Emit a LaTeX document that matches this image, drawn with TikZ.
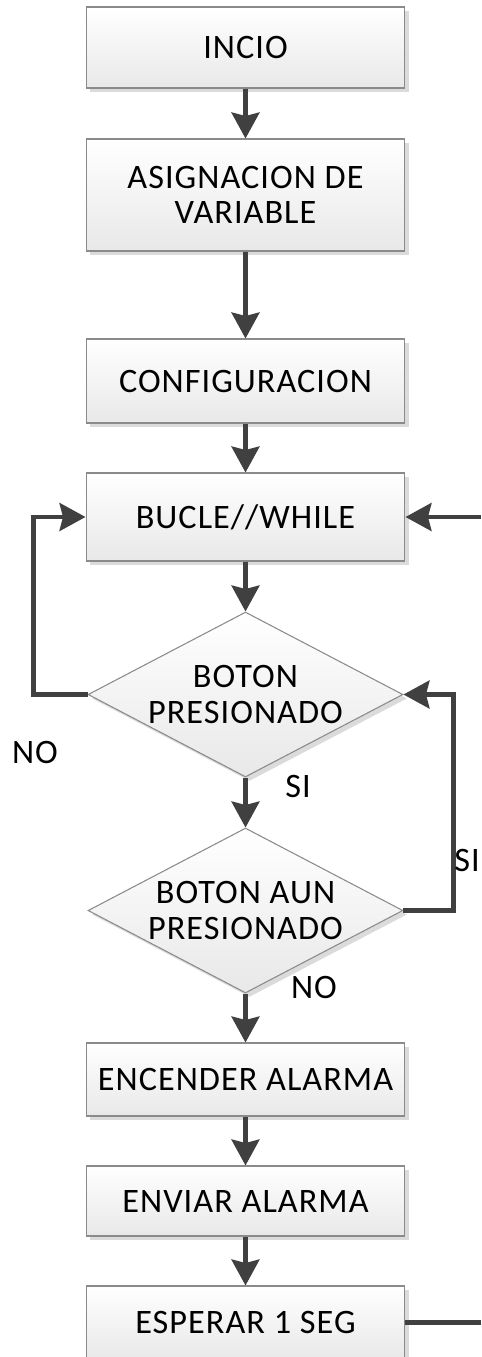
\documentclass[tikz,border=0pt]{standalone}
\usepackage{fontspec}
\setmainfont{Carlito}
\newfontfamily\letracaja[LetterSpace=3]{Carlito}
\usetikzlibrary{arrows.meta,shapes.geometric,shadows}
\definecolor{linea}{HTML}{404040}
\definecolor{borde}{HTML}{8A8A8A}
\tikzset{
  caja/.style={rectangle,draw=borde,line width=0.6pt,top color=white,bottom color=black!9,
    drop shadow={shadow xshift=0.08cm,shadow yshift=-0.08cm,fill=black!14,opacity=1},
    minimum width=6.38cm,align=center,inner sep=2pt,font=\letracaja\fontsize{19.5}{20}\selectfont},
  decision/.style={diamond,draw=borde,line width=0.6pt,top color=white,bottom color=black!9,
    drop shadow={shadow xshift=0.08cm,shadow yshift=-0.08cm,fill=black!14,opacity=1},
    aspect=1.9,inner sep=0pt,minimum width=6.3cm,minimum height=3.3cm,align=center,
    font=\letracaja\fontsize{19.5}{20}\selectfont},
  flujo/.style={draw=linea,line width=2.3pt,-{Stealth[length=0.52cm,width=0.56cm,inset=0.07cm]}},
  etiqueta/.style={font=\letracaja\fontsize{19.5}{20}\selectfont}
}
\begin{document}
\begin{tikzpicture}[x=0.02cm,y=-0.02cm]
      \useasboundingbox (0,0) rectangle (481,1357);
      \clip (0,0) rectangle (481,1357);
      % cajas
      \node[caja,minimum height=1.62cm] (inicio) at (245.5,47.5) {INCIO};
      \node[caja,minimum height=2.24cm] (asignacion) at (245.5,195) {ASIGNACION DE\\VARIABLE};
      \node[caja,minimum height=1.68cm] (config) at (245.5,381) {CONFIGURACION};
      \node[caja,minimum height=1.76cm] (bucle) at (245.5,517) {BUCLE//WHILE};
      \node[decision] (boton) at (245.5,694.5) {BOTON\\PRESIONADO};
      \node[decision] (aun) at (245.5,910.5) {BOTON AUN\\PRESIONADO};
      \node[caja,minimum height=1.46cm] (encender) at (245.5,1079.5) {ENCENDER ALARMA};
      \node[caja,minimum height=1.40cm] (enviar) at (245.5,1201) {ENVIAR ALARMA};
      \node[caja,minimum height=1.46cm] (esperar) at (245.5,1322.5) {ESPERAR 1 SEG};
      \coordinate (retorno) at (481,1322.5);
      \coordinate (entrada) at (481,517);
      % flechas
      \draw[flujo] (inicio) -- (asignacion);
      \draw[flujo] (asignacion) -- (config);
      \draw[flujo] (config) -- (bucle);
      \draw[flujo] (bucle) -- (boton);
      \draw[flujo] (boton) -- (aun);
      \draw[flujo] (aun) -- (encender);
      \draw[flujo] (encender) -- (enviar);
      \draw[flujo] (enviar) -- (esperar);
      \draw[flujo] (boton.west) -- ++(-54,0) |- (bucle.west);
      \draw[flujo] (aun.east) -- ++(50,0) |- (boton.east);
      \draw[flujo,-] (esperar.east) -- (retorno);
      \draw[flujo] (entrada) -- (bucle.east);
      % etiquetas
      \node[etiqueta] (no1) at (35,752) {NO};
      \node[etiqueta] (si1) at (298,786) {SI};
      \node[etiqueta] (si2) at (467,860) {SI};
      \node[etiqueta] (no2) at (314,987) {NO};
    \end{tikzpicture}
\end{document}
